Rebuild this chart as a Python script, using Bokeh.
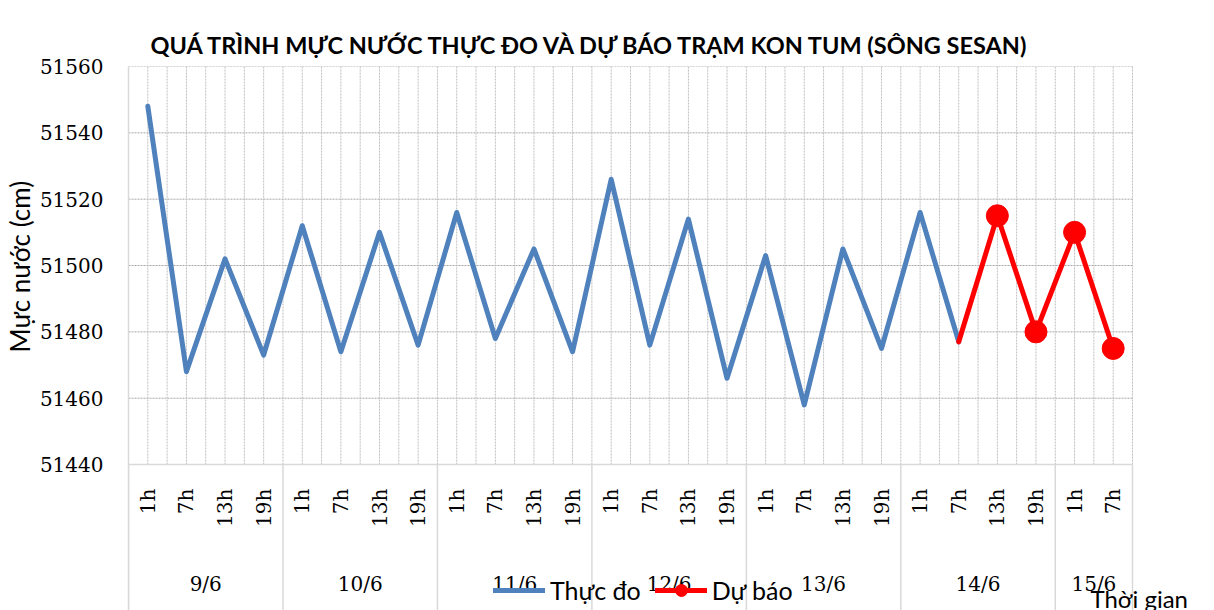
import math
from bokeh.plotting import figure
from bokeh.models import (ColumnDataSource, FixedTicker, Range1d, Legend,
                          LegendItem, Label, Title)
from bokeh.core.properties import value
from bokeh.embed import file_html
from bokeh.resources import INLINE

# ---------------- data ----------------
days = ["9/6", "10/6", "11/6", "12/6", "13/6", "14/6", "15/6"]
hours_per_day = [4, 4, 4, 4, 4, 4, 2]
hour_labels = ["1h", "7h", "13h", "19h"]
observed = [51548, 51468, 51502, 51473, 51512, 51474, 51510, 51476,
            51516, 51478, 51505, 51474, 51526, 51476, 51514, 51466,
            51503, 51458, 51505, 51475, 51516, 51477]
forecast = [51515, 51480, 51510, 51475]
y_ticks = [51440, 51460, 51480, 51500, 51520, 51540, 51560]

title_text = "QUÁ TRÌNH MỰC NƯỚC THỰC ĐO VÀ DỰ BÁO TRẠM KON TUM (SÔNG SESAN)"
y_title = "Mực nước (cm)"
x_title = "Thời gian"

# ---------------- derived positions ----------------
hours = []
for n in hours_per_day:
    hours += hour_labels[:n]
n_cat = len(hours)
centers = [i + 0.5 for i in range(n_cat)]
bounds = [0]
for n in hours_per_day:
    bounds.append(bounds[-1] + n)
day_centers = [(bounds[i] + bounds[i + 1]) / 2 for i in range(len(days))]

y_lo, y_hi = y_ticks[0], y_ticks[-1]
# extra room under / right of the value area for category labels & axis title
y_min = y_lo - 44.0
x_max = n_cat * 1086 / 1004

obs_src = ColumnDataSource(dict(x=centers[:len(observed)], y=observed))
fc_x = centers[len(observed) - 1:len(observed) + len(forecast)]
fc_line_src = ColumnDataSource(dict(x=fc_x, y=[observed[-1]] + forecast))
fc_pt_src = ColumnDataSource(dict(x=fc_x[1:], y=forecast))

SANS = "Lato"
SERIF = "DejaVu Serif"
AXIS_GREY = "#d9d9d9"
GRID_GREY = "#a6a6a6"

p = figure(width=1214, height=610, output_backend="svg", toolbar_location=None,
           x_range=Range1d(0, x_max), y_range=Range1d(y_min, y_hi),
           min_border_left=128, min_border_right=0, min_border_top=66,
           min_border_bottom=0)
p.outline_line_color = None
p.background_fill_color = "white"

# title
p.title.text = title_text
p.title.text_font = SANS
p.title.text_font_style = "bold"
p.title.text_font_size = "23.5px"
p.title.align = "left"
p.title.offset = 22
p.title.standoff = 15
p.title.text_color = "black"

# y axis
ya = p.yaxis[0]
ya.ticker = FixedTicker(ticks=y_ticks)
ya.major_tick_out = 0
ya.major_tick_in = 0
ya.minor_tick_out = 0
ya.minor_tick_in = 0
ya.axis_line_color = AXIS_GREY
ya.axis_line_width = 1.5
ya.major_label_text_font = SERIF
ya.major_label_text_font_size = "20px"
ya.major_label_text_color = "black"
ya.major_label_standoff = 25

p.add_layout(Title(text=y_title, align="left", offset=258, text_font=SANS,
                   text_font_style="normal", text_font_size="26px",
                   text_color="black", standoff=2), "left")

p.xaxis.visible = False
p.xgrid[0].visible = False
p.ygrid[0].visible = False

# horizontal dotted grid + category axis line
gy = y_ticks[1:]
p.segment(x0=[0] * len(gy), y0=gy, x1=[n_cat] * len(gy), y1=gy,
          line_color=GRID_GREY, line_dash="2 1", line_width=1)
# vertical dotted grid inside value area (category centres and edges)
gx = [i * 0.5 for i in range(1, 2 * n_cat + 1)]
p.segment(x0=gx, y0=[y_lo] * len(gx), x1=gx, y1=[y_hi] * len(gx),
          line_color="#bfbfbf", line_dash="2 1", line_width=1)
p.segment(x0=[0], y0=[y_lo], x1=[n_cat], y1=[y_lo],
          line_color=AXIS_GREY, line_width=1.5)
# category group separators below the value area
p.segment(x0=bounds, y0=[y_min] * len(bounds), x1=bounds, y1=[y_lo] * len(bounds),
          line_color=AXIS_GREY, line_width=1.5)

# category labels
p.text(x=centers, y=[y_lo] * n_cat, text=hours, angle=math.pi / 2,
       y_offset=24, text_align="right", text_baseline="middle",
       text_font=value(SERIF), text_font_size="20px", text_color="black")
p.text(x=day_centers, y=[y_lo] * len(days), text=days, y_offset=119,
       text_align="center", text_baseline="middle",
       text_font=value(SERIF), text_font_size="20px", text_color="black")

# series
obs_line = p.line("x", "y", source=obs_src, line_color="#4F81BD", line_width=5,
                  line_join="round", line_cap="round")
fc_line = p.line("x", "y", source=fc_line_src, line_color="#FF0000", line_width=5,
                 line_join="round", line_cap="round")
fc_pts = p.scatter("x", "y", source=fc_pt_src, marker="circle", size=22,
                   fill_color="#FF0000", line_color="#FF0000")

legend = Legend(items=[LegendItem(label="Thực đo", renderers=[obs_line]),
                       LegendItem(label="Dự báo", renderers=[fc_line, fc_pts])],
                orientation="horizontal", location=(365, 5),
                glyph_width=52, glyph_height=30, label_standoff=5, spacing=14,
                padding=0, margin=0, border_line_color=None,
                background_fill_alpha=0, label_text_font=SANS,
                label_text_font_size="25px", label_text_color="black")
p.add_layout(legend, "center")

p.add_layout(Label(x=962, y=12, x_units="screen", y_units="screen",
                   text=x_title, text_font=SANS, text_font_size="24px",
                   text_color="black", text_baseline="alphabetic"))

open("out.html", "w").write(file_html(p, INLINE))
